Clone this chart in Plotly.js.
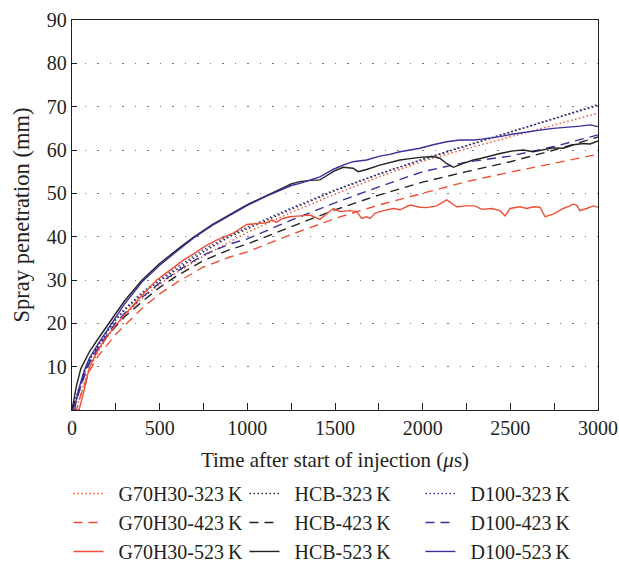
<!DOCTYPE html>
<html>
<head>
<meta charset="utf-8">
<script src="https://cdn.plot.ly/plotly-3.0.1.min.js"></script>
<style>html,body{margin:0;padding:0;background:#fff;}#chart{width:619px;height:562px;}</style>
</head>
<body>
<div id="chart"></div>
<script>
// Smooth series (323 K and 423 K) share one time grid (µs)
const tSmooth = [0,25,50,75,100,150,200,250,300,400,500,600,750,900,1000,1250,1500,1750,2000,2250,2500,2750,3000];
const g70h30_323 = [0,0,3.5,7,9.5,13.5,16.8,19.5,21.8,25.8,29,31.8,35.5,38.8,41,45.6,49.8,53.8,57.4,60.3,63,65.8,68.5];
const hcb_323    = [0,3,6.5,9.5,11.8,15,18,20.8,23,26.8,29.8,32.5,36.5,40,41.8,46.3,50.6,54.4,57.8,61,64.1,67.2,70.3];
const d100_323   = [0,2,5.5,9,11.5,15,18.2,21,23.3,27.2,30.2,33,37,40.3,42.2,46.6,50.8,54.5,57.9,61.1,64.2,67.3,70.5];
const g70h30_423 = [0,0,3.5,6.5,9,12.5,15,17.5,19.5,23.5,26.8,29.5,33,35.3,36.5,40.5,44.2,47.3,50,52.7,54.9,57,59];
const hcb_423    = [0,2.5,6,8.8,11,14,17,19.3,21.5,25,28.3,31,34.5,37,38.3,42.3,46.2,49.6,52.6,55,57.3,60,63];
const d100_423   = [0,2,5.5,8.5,11,14.5,17.5,20.2,22.3,26,29.3,32,35.8,38.3,39.5,43.8,47.8,51.5,55,57.2,58.6,60.8,63.5];

// 523 K measured series
const tHcb523 = [0,10,25,50,75,100,150,210,250,300,400,500,600,690,800,900,1000,1100,1150,1200,1250,1300,1357,1414,1450,1489,1546,1603,1632,1680,1756,1813,1870,1928,1985,2060,2098,2136,2175,2232,2289,2336,2384,2441,2517,2574,2631,2688,2745,2802,2860,2917,2955,3000];
const hcb_523   = [0,2.5,5.5,9.5,11.7,13.5,16.5,20,22.2,25.2,30,33.8,37,39.8,42.8,45.2,47.4,49.3,50.2,51.2,52.2,52.7,53,53.1,54,55,56,55.8,55,55.5,56.5,57.1,57.7,58,58.3,58.5,58.1,56.9,56,56.9,57.7,58.1,58.6,59.2,59.8,60,59.6,60,60.5,60.4,61.2,61.5,61.4,62.1];
const tD100523 = [0,15,25,50,78,100,150,200,250,300,400,500,600,690,800,900,1000,1100,1168,1250,1300,1357,1414,1489,1546,1603,1680,1756,1813,1870,1928,1985,2060,2136,2212,2289,2336,2384,2441,2517,2593,2669,2745,2822,2898,2955,3000];
const d100_523  = [0,0,2.5,6.5,10,12,15.3,18.3,21.3,24.5,29.6,33.4,36.7,39.6,42.6,45,47.2,49.2,50.4,51.8,52.3,53,53.8,55.5,56.5,57.3,57.7,58.6,59,59.6,60,60.4,61.2,61.9,62.3,62.3,62.5,62.7,63.1,63.7,64.2,64.6,65,65.2,65.5,65.8,65.4];
const tG70523 = [0,40,60,80,100,150,200,250,300,400,483,550,635,700,760,825,920,996,1050,1110,1140,1167,1200,1243,1300,1357,1414,1453,1490,1528,1586,1624,1652,1681,1700,1728,1776,1833,1871,1928,1985,2023,2080,2137,2194,2251,2298,2337,2394,2441,2470,2498,2555,2593,2631,2669,2698,2745,2802,2840,2859,2878,2897,2935,2973,3000];
const g70h30_523 = [0,0,3,6.5,10,14,17,19.6,22,26.5,30,32,34.6,36.2,37.8,39.2,40.8,42.8,43,43.2,43.9,43.3,44.2,44.6,44.8,45,44,45.4,46.5,45.8,46,45.8,44.2,44.6,44.2,45.4,46,46.5,46.2,47.3,46.8,46.7,47.1,48.5,46.9,47.1,47.1,46.3,46.5,46,44.8,46.5,46.9,46.5,46.9,46.8,44.6,45.2,46.5,47.1,47.5,47.3,46,46.5,47.1,46.8];

const xTickVals = [0,500,1000,1500,2000,2500,3000];
const yTickVals = [10,20,30,40,50,60,70,80,90];

const RED = '#ef4f36', BLACK = '#222222', BLUE = '#3a2f9c';
const DASH = '9px,6px', DOT = '1.5px,2.5px';
const FONT = 'Liberation Serif, Times New Roman, serif';

function tr(name, x, y, color, dash) {
  return {type:'scatter', mode:'lines', name:'\u2002' + name, x:x, y:y,
          line:{color:color, width:1.4, dash:dash}};
}

const data = [
  tr('G70H30-323\u2009K', tSmooth, g70h30_323, RED, DOT),
  tr('HCB-323\u2009K', tSmooth, hcb_323, BLACK, DOT),
  tr('D100-323\u2009K', tSmooth, d100_323, BLUE, DOT),
  tr('G70H30-423\u2009K', tSmooth, g70h30_423, RED, DASH),
  tr('HCB-423\u2009K', tSmooth, hcb_423, BLACK, DASH),
  tr('D100-423\u2009K', tSmooth, d100_423, BLUE, DASH),
  tr('G70H30-523\u2009K', tG70523, g70h30_523, RED, 'solid'),
  tr('HCB-523\u2009K', tHcb523, hcb_523, BLACK, 'solid'),
  tr('D100-523\u2009K', tD100523, d100_523, BLUE, 'solid')
];

const layout = {
  width:619, height:562,
  margin:{l:72, r:21, t:20, b:152, autoexpand:false},
  paper_bgcolor:'#fff', plot_bgcolor:'#fff',
  font:{family:FONT, size:20, color:'#231f20'},
  showlegend:true,
  xaxis:{
    range:[0,3000], tickvals:xTickVals, ticks:'inside', ticklen:7, tickwidth:1,
    tickcolor:'#231f20', showline:true, linecolor:'#231f20', linewidth:1.3, mirror:true,
    showgrid:false, zeroline:false, tickfont:{size:20},
    minor:{dtick:250, tick0:0, ticks:'inside', ticklen:7, tickcolor:'#231f20', showgrid:false},
    title:{text:'Time after start of injection (<i>\u03bc</i>s)', font:{size:21}, standoff:14}
  },
  yaxis:{
    range:[0,90], tickvals:yTickVals, ticks:'inside', ticklen:5, tickcolor:'#231f20',
    showline:true, linecolor:'#231f20', linewidth:1.3, mirror:true,
    showgrid:true, gridcolor:'#777', gridwidth:1, griddash:'1.5px,11px',
    zeroline:false, tickfont:{size:20},
    title:{text:'Spray penetration (mm)', font:{size:22.5}, standoff:10}
  },
  legend:{
    orientation:'h', x:-0.0067, xanchor:'left', y:-0.164, yanchor:'top',
    entrywidth:131, entrywidthmode:'pixels', traceorder:'normal',
    font:{size:20}, itemwidth:30, tracegroupgap:0, bgcolor:'rgba(0,0,0,0)'
  }
};

Plotly.newPlot('chart', data, layout, {staticPlot:true, displayModeBar:false});
</script>
</body>
</html>
